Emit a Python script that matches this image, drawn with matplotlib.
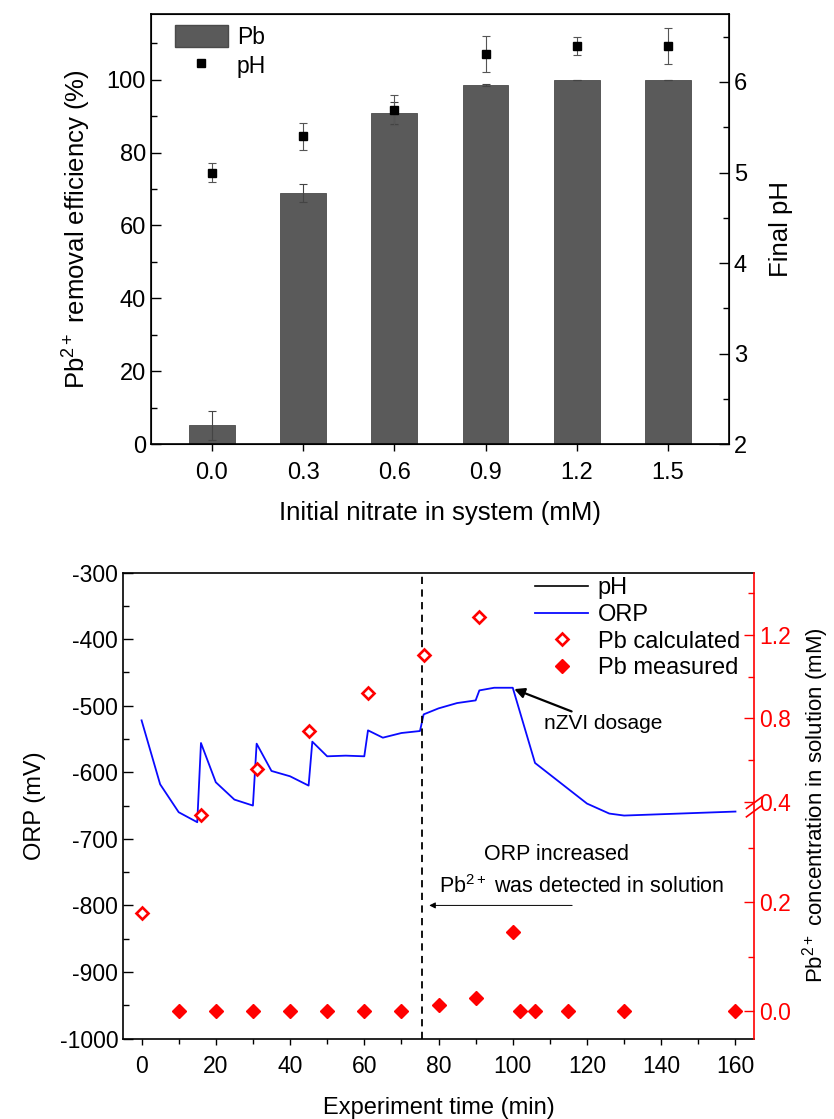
import numpy as np
import matplotlib
matplotlib.use("Agg")
import matplotlib.pyplot as plt
from matplotlib.lines import Line2D
from matplotlib.patches import Patch

plt.rcParams['font.family'] = ['Liberation Sans', 'DejaVu Sans']
plt.rcParams['mathtext.fontset'] = 'custom'
plt.rcParams['mathtext.rm'] = 'Liberation Sans'
plt.rcParams['mathtext.it'] = 'Liberation Sans:italic'
plt.rcParams['axes.unicode_minus'] = False

# top panel data
nitrate = [0.0, 0.3, 0.6, 0.9, 1.2, 1.5]
removal = [5.2, 69.0, 90.8, 98.5, 100.0, 100.0]
removal_err = [4.0, 2.5, 3.0, 0.3, 0.0, 0.0]
final_ph = [5.00, 5.40, 5.69, 6.31, 6.40, 6.40]
final_ph_err = [0.10, 0.15, 0.17, 0.20, 0.10, 0.20]

# bottom panel data
orp_t = [0, 5, 10, 15, 16, 20, 25, 30, 31, 35, 40, 45, 46, 50, 55, 60, 61, 65, 70, 75,
         76, 80, 85, 90, 91, 95, 100, 106, 120, 126, 130, 145, 160]
orp = [-522, -618, -660, -675, -556, -615, -641, -650, -557, -598, -606, -620, -554, -576,
       -575, -576, -537, -548, -541, -538, -513, -504, -496, -492, -477, -473, -473, -586,
       -647, -662, -665, -662, -659]
calc_t = [0, 16, 31, 45, 61, 76, 91]
calc_pb = [0.18, 0.36, 0.556, 0.739, 0.922, 1.103, 1.285]
meas_t = [10, 20, 30, 40, 50, 60, 70, 80, 90, 100, 102, 106, 115, 130, 160]
meas_pb = [0, 0, 0, 0, 0, 0, 0, 0.012, 0.025, 0.145, 0, 0, 0, 0, 0]

fig = plt.figure(figsize=(8.34, 11.19), dpi=100)

# ---------------- top panel
ax1 = fig.add_axes([0.181, 0.603, 0.693, 0.3845])
ax1.bar(nitrate, removal, width=0.15, color='#5a5a5a', edgecolor='#4a4a4a', linewidth=0.6,
        yerr=removal_err, error_kw=dict(ecolor='#444444', elinewidth=0.8, capsize=3, capthick=0.8))
ax1.set_xlim(-0.2, 1.7)
ax1.set_ylim(0, 118)
ax1.set_xticks(nitrate)
ax1.set_xticklabels(['%.1f' % v for v in nitrate])
ax1.set_yticks([0, 20, 40, 60, 80, 100])
ax1.set_yticks(np.arange(10, 118, 20), minor=True)
ax1.tick_params(axis='y', which='major', direction='in', length=7, width=1, labelsize=17)
ax1.tick_params(axis='y', which='minor', direction='in', length=4.5, width=1)
ax1.tick_params(axis='x', direction='out', length=5, width=1, labelsize=17, pad=8)
ax1.set_ylabel('Pb$\\mathregular{^{2+}}$ removal efficiency (%)', fontsize=18.5, labelpad=10)
ax1.set_xlabel('Initial nitrate in system (mM)', fontsize=18.5, labelpad=12)
for s in ax1.spines.values():
    s.set_linewidth(1.2)

ax1r = ax1.twinx()
ax1r.errorbar(nitrate, final_ph, yerr=final_ph_err, fmt='s', color='black', markersize=6,
              ecolor='#555555', elinewidth=0.8, capsize=3, capthick=0.8)
ax1r.set_ylim(2, 6.75)
ax1r.set_yticks([2, 3, 4, 5, 6])
ax1r.set_yticks([2.5, 3.5, 4.5, 5.5, 6.5], minor=True)
ax1r.tick_params(axis='y', which='major', direction='in', length=7, width=1, labelsize=17)
ax1r.tick_params(axis='y', which='minor', direction='in', length=4.5, width=1)
ax1r.set_ylabel('Final pH', fontsize=18.5, labelpad=16)
ax1r.legend([Patch(facecolor='#5a5a5a', edgecolor='#4a4a4a'),
             Line2D([], [], ls='none', marker='s', color='black', markersize=6)],
            ['Pb', 'pH'], loc='upper left', bbox_to_anchor=(0.0415, 0.975), frameon=False,
            fontsize=16.5, handlelength=2.3, handleheight=1.15, labelspacing=0.2,
            handletextpad=0.4, borderpad=0, borderaxespad=0)

# ---------------- bottom panel
ax2 = fig.add_axes([0.1475, 0.0719, 0.7566, 0.4164])
ax2.plot([], [], color='black', lw=1.2, label='pH')
ax2.plot(orp_t, orp, color='#0a0aff', lw=1.3, label='ORP')
ax2.axvline(75.5, color='black', ls='--', lw=1.3, dashes=(4, 3))
ax2.set_xlim(-5, 165)
ax2.set_ylim(-1000, -300)
ax2.set_xticks(np.arange(0, 161, 20))
ax2.set_xticks(np.arange(10, 161, 20), minor=True)
ax2.set_yticks(np.arange(-1000, -299, 100))
ax2.set_yticks(np.arange(-950, -300, 100), minor=True)
ax2.tick_params(axis='y', which='major', direction='in', length=7, width=1, labelsize=16.5)
ax2.tick_params(axis='y', which='minor', direction='in', length=4.5, width=1)
ax2.tick_params(axis='x', which='major', direction='out', length=4.5, width=1, labelsize=16.5,
                pad=7)
ax2.tick_params(axis='x', which='minor', direction='out', length=3.5, width=1)
ax2.set_xlabel('Experiment time (min)', fontsize=17, labelpad=14)
ax2.set_ylabel('ORP (mV)', fontsize=17, labelpad=10)
ax2.spines['right'].set_visible(False)
for s in ['left', 'top', 'bottom']:
    ax2.spines[s].set_linewidth(1.2)

ax2.annotate('nZVI dosage', xy=(100.4, -475), xytext=(108.4, -527), fontsize=15,
             va='center', ha='left',
             arrowprops=dict(arrowstyle='-|>', color='black', lw=1.6, mutation_scale=15,
                             shrinkA=0, shrinkB=0))
ax2.text(111.8, -723, 'ORP increased', fontsize=15.5, ha='center', va='center')
ax2.text(118.6, -771, 'Pb$\\mathregular{^{2+}}$ was detected in solution', fontsize=15.5,
         ha='center', va='center')
ax2.annotate('', xy=(77.5, -800), xytext=(116, -800),
             arrowprops=dict(arrowstyle='-|>', color='black', lw=0.7, mutation_scale=9,
                             shrinkA=0, shrinkB=0))

# right broken axis (Pb concentration)
brk = 0.375
lo_rate, hi_rate = 490.0, 187.5


def fwd(v):
    v = np.asarray(v, dtype=float)
    return np.where(v <= brk, v * lo_rate, brk * lo_rate + (v - brk) * hi_rate)


def inv(p):
    p = np.asarray(p, dtype=float)
    return np.where(p <= brk * lo_rate, p / lo_rate, brk + (p - brk * lo_rate) / hi_rate)


ax3 = ax2.twinx()
ax3.set_yscale('function', functions=(fwd, inv))
ax3.plot(calc_t, calc_pb, ls='none', marker='D', markersize=6.5, markerfacecolor='white',
         markeredgecolor='red', markeredgewidth=1.9, label='Pb calculated')
ax3.plot(meas_t, meas_pb, ls='none', marker='D', markersize=7.5, color='red',
         label='Pb measured')
ax3.set_ylim(-0.05, 1.5)
ax3.set_yticks([0.0, 0.2, 0.4, 0.8, 1.2])
ax3.set_yticklabels(['0.0', '0.2', '0.4', '0.8', '1.2'])
ax3.set_yticks([0.1, 0.3, 0.6, 1.0, 1.4], minor=True)
ax3.yaxis.set_minor_formatter(plt.NullFormatter())
ax3.tick_params(axis='y', which='major', direction='in', length=7, width=1, colors='red',
                labelsize=16.5)
ax3.tick_params(axis='y', which='minor', direction='in', length=4.5, width=1, colors='red')
ax3.spines['right'].set_color('red')
ax3.spines['right'].set_linewidth(1.2)
ax3.spines['left'].set_visible(False)
ax3.spines['top'].set_visible(False)
ax3.spines['bottom'].set_visible(False)
ax3.set_ylabel('Pb$\\mathregular{^{2+}}$ concentration in solution (mM)', fontsize=16,
               labelpad=7)

# break marks on the right spine
yb = (fwd(brk) - fwd(-0.05)) / (fwd(1.5) - fwd(-0.05))
for off in (-0.009, 0.009):
    ax3.plot([0.988, 1.012], [yb + off - 0.012, yb + off + 0.012], transform=ax3.transAxes,
             color='red', lw=1.2, clip_on=False)

h2, l2 = ax2.get_legend_handles_labels()
h3, l3 = ax3.get_legend_handles_labels()
ax3.legend(h2 + h3, l2 + l3, loc='upper right', bbox_to_anchor=(0.978, 0.99), frameon=False,
           fontsize=17, handlelength=2.25, labelspacing=0.2, handletextpad=0.4,
           borderpad=0, borderaxespad=0)

fig.savefig('out.png', dpi=100)
